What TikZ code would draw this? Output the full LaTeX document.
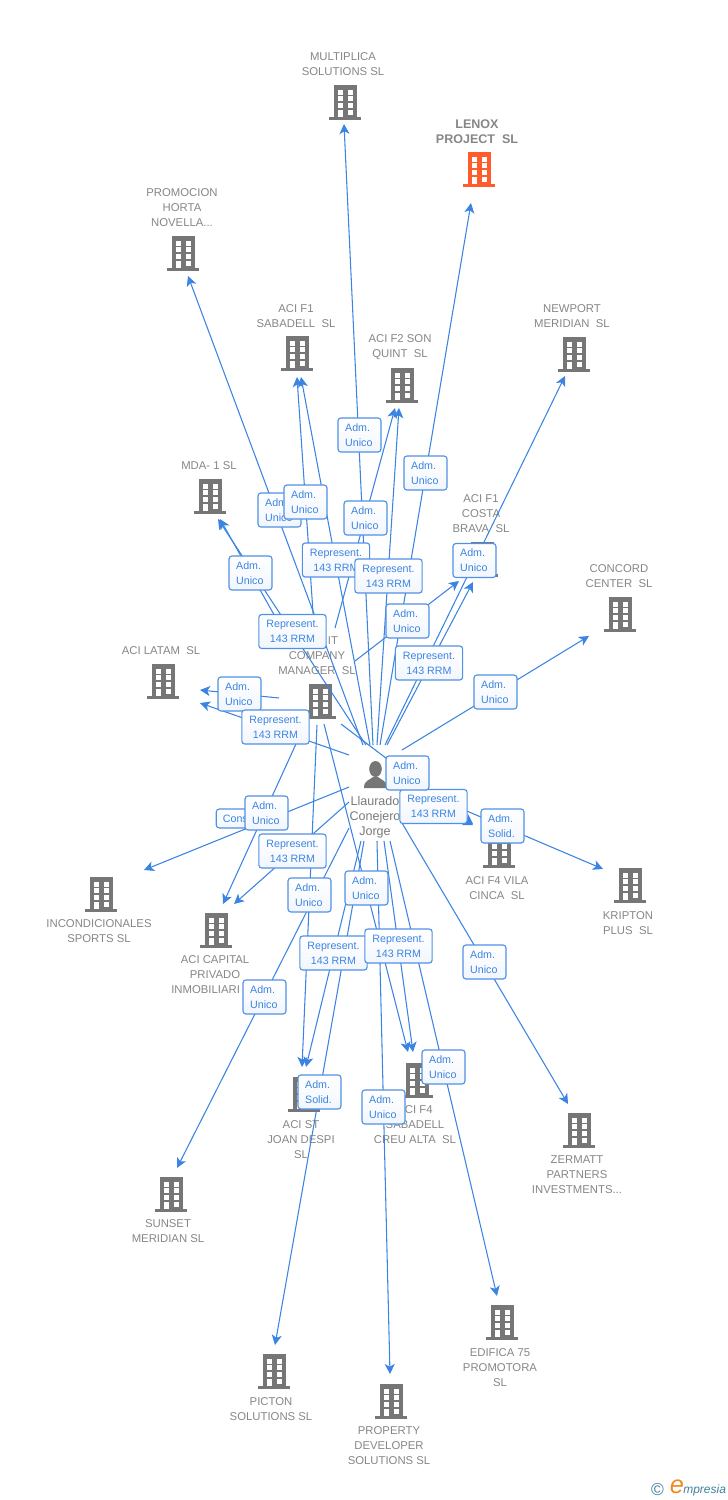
\documentclass[tikz,border=0pt]{standalone}
\usepackage{fontspec}
\setmainfont{Liberation Sans}
\usetikzlibrary{arrows.meta}

\definecolor{linkblue}{HTML}{3C84E2}
\definecolor{corpgrey}{HTML}{868686}
\definecolor{iconGrey}{HTML}{767676}
\definecolor{leadorange}{HTML}{FF5B2B}
\definecolor{logoteal}{HTML}{3F7F9E}
\definecolor{logoorange}{HTML}{F08A1E}

\tikzset{
	link/.style={draw=linkblue, line width=0.8pt, -{Stealth[length=7.5pt, width=7.5pt, inset=2pt]}},
	bldg/.style={inner sep=0pt, minimum size=27pt, path picture={
		\fill[#1] (-11.5,-17) rectangle (11.5,16);
		\fill[#1] (-16,15) rectangle (16,17.5);
		\foreach \wy in {-12.3,-6,1} {
			\fill[white] (-7.5,\wy) rectangle +(5,5);
			\fill[white] (2.5,\wy) rectangle +(5,5);
		}
		\fill[white] (-7.5,7.7) rectangle (-2.5,15);
		\fill[white] (2.5,7.7) rectangle (7.5,12.7);
	}},
	persona/.style={inner sep=0pt, minimum size=27pt, path picture={
		\fill[iconGrey] (-1.5,-6) ellipse (6.3 and 8);
		\fill[iconGrey] (-13,13) .. controls (-13,5) and (-7,5) .. (-4,2) -- (1,2) .. controls (4,5) and (10,5) .. (10,13) -- cycle;
	}},
	corp/.style={align=center, inner sep=0pt, text=corpgrey, font=\fontsize{8.5}{11.25}\selectfont},
	lead/.style={align=center, inner sep=0pt, text=corpgrey, font=\fontsize{9.4}{11.25}\selectfont\bfseries},
	personname/.style={align=center, inner sep=0pt, text=corpgrey!90!black, font=\fontsize{9.4}{11.25}\selectfont},
	tag/.style={draw=linkblue!90!white, line width=0.85pt, rounded corners=2.2pt, top color=white, bottom color=linkblue!7!white, text=linkblue, font=\fontsize{8}{11.25}\selectfont},
	adm/.style={tag, align=left, inner sep=0pt, text width=21.5pt, minimum width=32.25pt, minimum height=25.5pt},
	rep/.style={tag, align=center, inner sep=0pt, minimum width=50.5pt, minimum height=25.5pt}
}

\begin{document}
\begin{tikzpicture}[x=0.75pt, y=-0.75pt]
	\useasboundingbox (0,0) rectangle (728,1500);

	\node[bldg=iconGrey] (multiplica) at (345,102) {};
	\node[bldg=leadorange] (lenox) at (479,169) {};
	\node[bldg=iconGrey] (promocion) at (183,253) {};
	\node[bldg=iconGrey] (sabadell) at (297,353) {};
	\node[bldg=iconGrey] (sonquint) at (402,385) {};
	\node[bldg=iconGrey] (newport) at (574,354) {};
	\node[bldg=iconGrey] (mda) at (210,496) {};
	\node[bldg=iconGrey] (costabrava) at (482,559) {};
	\node[bldg=iconGrey] (concord) at (620,614) {};
	\node[bldg=iconGrey] (latam) at (163,681) {};
	\node[bldg=iconGrey] (itco) at (320,701) {};
	\node[bldg=iconGrey] (vilacinca) at (499,850) {};
	\node[bldg=iconGrey] (kripton) at (630,885) {};
	\node[bldg=iconGrey] (incond) at (101,894) {};
	\node[bldg=iconGrey] (capital) at (216,930) {};
	\node[bldg=iconGrey] (stjoan) at (304,1094) {};
	\node[bldg=iconGrey] (creualta) at (417,1080) {};
	\node[bldg=iconGrey] (zermatt) at (579,1130) {};
	\node[bldg=iconGrey] (sunset) at (171,1194) {};
	\node[bldg=iconGrey] (edifica) at (502,1322) {};
	\node[bldg=iconGrey] (picton) at (274,1371) {};
	\node[bldg=iconGrey] (property) at (391,1401) {};
	\node[persona] (llaurado) at (377,775) {};

	\node[corp] (multiplicatxt) at (343,64.5) {MULTIPLICA\\SOLUTIONS SL};
	\node[lead] (lenoxtxt) at (477,132) {LENOX\\PROJECT~~SL};
	\node[corp] (promociontxt) at (182,208) {PROMOCION\\HORTA\\NOVELLA...};
	\node[corp] (sabadelltxt) at (296,316.5) {ACI F1\\SABADELL~~SL};
	\node[corp] (sonquinttxt) at (400,347.5) {ACI F2 SON\\QUINT~~SL};
	\node[corp] (newporttxt) at (572,316.5) {NEWPORT\\MERIDIAN~~SL};
	\node[corp] (mdatxt) at (209,466) {MDA- 1 SL};
	\node[corp] (costabravatxt) at (481,514) {ACI F1\\COSTA\\BRAVA~~SL};
	\node[corp] (concordtxt) at (619,576.5) {CONCORD\\CENTER~~SL};
	\node[corp] (latamtxt) at (161,651) {ACI LATAM~~SL};
	\node[corp] (itcotxt) at (317,656) {\hspace*{24pt}IT\\COMPANY\\MANAGER~~SL};
	\node[corp] (vilacincatxt) at (497,888.5) {ACI F4 VILA\\CINCA~~SL};
	\node[corp] (kriptontxt) at (628,923.5) {KRIPTON\\PLUS~~SL};
	\node[corp] (incondtxt) at (99,931.5) {INCONDICIONALES\\SPORTS SL};
	\node[corp] (capitaltxt) at (215,975) {ACI CAPITAL\\PRIVADO\\INMOBILIARI\hspace*{14pt}};
	\node[corp] (stjoantxt) at (301,1140) {ACI ST\\JOAN DESPI\\SL};
	\node[corp] (creualtatxt) at (415,1125) {ACI F4\\SABADELL\\CREU ALTA~~SL};
	\node[corp] (zermatttxt) at (577,1175) {ZERMATT\\PARTNERS\\INVESTMENTS...};
	\node[corp] (sunsettxt) at (168,1231.5) {SUNSET\\MERIDIAN SL};
	\node[corp] (edificatxt) at (500,1368) {EDIFICA 75\\PROMOTORA\\SL};
	\node[corp] (pictontxt) at (271,1409.5) {PICTON\\SOLUTIONS SL};
	\node[corp] (propertytxt) at (389,1446) {PROPERTY\\DEVELOPER\\SOLUTIONS SL};
	\node[personname] (llauradotxt) at (375,817) {Llaurado\\Conejero\\Jorge};

	\draw[link] ([shift={(-4,-30)}]llaurado.center) -- ([shift={(-1,22)}]multiplica.center);
	\draw[link] ([shift={(3,-30)}]llaurado.center) -- ([shift={(-8,34)}]lenox.center);
	\draw[link] ([shift={(-14,-30)}]llaurado.center) -- ([shift={(5,23)}]promocion.center);
	\draw[link] ([shift={(-7,-30)}]llaurado.center) -- ([shift={(4,24)}]sabadell.center);
	\draw[link] ([shift={(0,-30)}]llaurado.center) -- ([shift={(-3,23)}]sonquint.center);
	\draw[link] ([shift={(8,-30)}]llaurado.center) -- ([shift={(-9,22)}]newport.center);
	\draw[link] ([shift={(10,-30)}]llaurado.center) -- ([shift={(-9,23)}]costabrava.center);
	\draw[link] ([shift={(25,-25)}]llaurado.center) -- ([shift={(-31,22)}]concord.center);
	\draw[link] ([shift={(-11,-30)}]llaurado.center) -- ([shift={(8,23)}]mda.center);
	\draw[link] ([shift={(-28,-20)}]llaurado.center) -- ([shift={(37,22)}]latam.center);
	\draw[link] ([shift={(16,11)}]llaurado.center) -- ([shift={(-26,-25)}]vilacinca.center);
	\draw[link] ([shift={(24,8)}]llaurado.center) -- ([shift={(-27,-16)}]kripton.center);
	\draw[link] ([shift={(25,48)}]llaurado.center) -- ([shift={(-11,-26)}]zermatt.center);
	\draw[link] ([shift={(13,66)}]llaurado.center) -- ([shift={(-5,-26)}]edifica.center);
	\draw[link] ([shift={(0,66)}]llaurado.center) -- ([shift={(-1,-27)}]property.center);
	\draw[link] ([shift={(7,66)}]llaurado.center) -- ([shift={(-4,-28)}]creualta.center);
	\draw[link] ([shift={(-13,66)}]llaurado.center) -- ([shift={(1,-26)}]picton.center);
	\draw[link] ([shift={(-16,66)}]llaurado.center) -- ([shift={(2,-27)}]stjoan.center);
	\draw[link] ([shift={(-28,53)}]llaurado.center) -- ([shift={(6,-26)}]sunset.center);
	\draw[link] ([shift={(-28,27)}]llaurado.center) -- ([shift={(18,-26)}]capital.center);
	\draw[link] ([shift={(-28,12)}]llaurado.center) -- ([shift={(43,-24)}]incond.center);

	\draw[link] ([shift={(-6,-74)}]itco.center) -- ([shift={(0,24)}]sabadell.center);
	\draw[link] ([shift={(15,-73)}]itco.center) -- ([shift={(-7,23)}]sonquint.center);
	\draw[link] ([shift={(35,-40)}]itco.center) -- ([shift={(-23,22)}]costabrava.center);
	\draw[link] ([shift={(-41,-3)}]itco.center) -- ([shift={(37,9)}]latam.center);
	\draw[link] ([shift={(-39,-74)}]itco.center) -- ([shift={(10,23)}]mda.center);
	\draw[link] ([shift={(-14,21)}]itco.center) -- ([shift={(7,-26)}]capital.center);
	\draw[link] ([shift={(-3,24)}]itco.center) -- ([shift={(-2,-27)}]stjoan.center);
	\draw[link] ([shift={(21,23)}]itco.center) -- ([shift={(-26,-26)}]vilacinca.center);
	\draw[link] ([shift={(4,23)}]itco.center) -- ([shift={(-9,-28)}]creualta.center);

	\node[adm] (admmultiplica) at (359.5,435) {Adm.\\Unico};
	\node[adm] (admlenox) at (425.5,473) {Adm.\\Unico};
	\node[adm] (admpromocion) at (279.5,510) {Adm.\\Unico};
	\node[adm] (admsabadell) at (305.5,502) {Adm.\\Unico};
	\node[adm] (admsonquint) at (365.5,518) {Adm.\\Unico};
	\node[rep] (repsabadell) at (336,560) {Represent.\\143 RRM};
	\node[rep] (repsonquint) at (388.5,576) {Represent.\\143 RRM};
	\node[adm] (admnewport) at (474.5,560.5) {Adm.\\Unico};
	\node[adm] (admmda) at (250.5,573) {Adm.\\Unico};
	\node[rep] (repmda) at (292.5,631.5) {Represent.\\143 RRM};
	\node[adm] (admcosta) at (407.5,621) {Adm.\\Unico};
	\node[rep] (repcosta) at (429,663) {Represent.\\143 RRM};
	\node[adm] (admconcord) at (495.5,692) {Adm.\\Unico};
	\node[adm] (admlatam) at (239.5,694) {Adm.\\Unico};
	\node[rep] (replatam) at (275.5,727) {Represent.\\143 RRM};
	\node[rep] (repvila) at (433.5,806.5) {Represent.\\143 RRM};
	\node[adm] (admvila) at (407.5,773) {Adm.\\Unico};
	\node[adm] (admkripton) at (502.5,826) {Adm.\\Solid.};
	\node[tag, anchor=west, inner sep=0pt, align=left, text width=27pt, minimum height=14.25pt, inner xsep=5pt] (consincond) at (215.7,818.5) {Cons};
	\node[adm] (admcapital) at (266.5,813) {Adm.\\Unico};
	\node[rep] (repcapital) at (292.5,851) {Represent.\\143 RRM};
	\node[adm] (admstjoan) at (309.5,895) {Adm.\\Unico};
	\node[adm] (admcreu) at (366.5,888) {Adm.\\Unico};
	\node[rep] (repstjoan) at (333.5,953) {Represent.\\143 RRM};
	\node[rep] (repcreu) at (398.5,946) {Represent.\\143 RRM};
	\node[adm] (admzermatt) at (484.5,962) {Adm.\\Unico};
	\node[adm] (admsunset) at (264.5,997) {Adm.\\Unico};
	\node[adm] (admpicton) at (319.5,1092) {Adm.\\Solid.};
	\node[adm] (admproperty) at (383.5,1107) {Adm.\\Unico};
	\node[adm] (admedifica) at (443.5,1067) {Adm.\\Unico};

	\node[inner sep=0pt, text=logoteal, font=\fontsize{13}{14}\selectfont] (copyrightmark) at (657.5,1489) {©};
	\node[inner sep=0pt, text=logoorange, font=\fontsize{19}{19}\selectfont\itshape] (logoe) at (677,1487) {e};
	\node[inner sep=0pt, anchor=west, text=logoteal, font=\fontsize{9}{10}\selectfont\itshape] (logotxt) at (683,1490) {mpresia};
\end{tikzpicture}
\end{document}
